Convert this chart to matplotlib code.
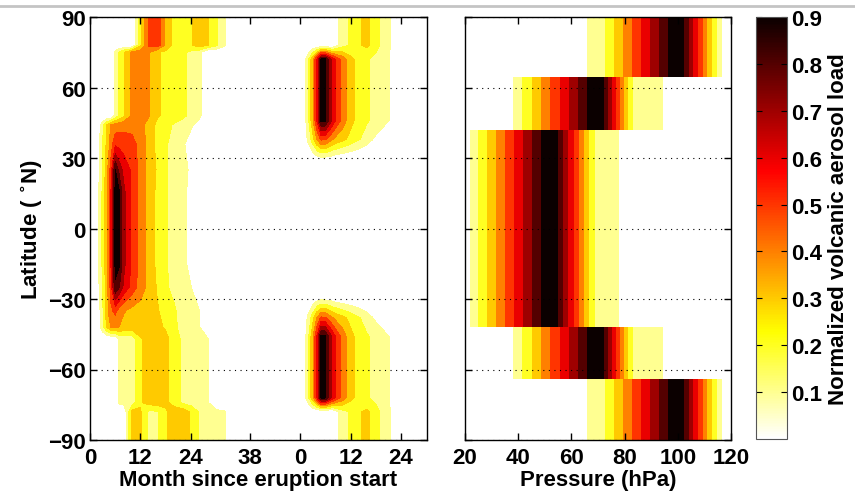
import numpy as np
import matplotlib
matplotlib.use("Agg")
import matplotlib.pyplot as plt
from matplotlib import cm
from matplotlib.colors import Normalize

plt.rcParams['font.family'] = ['Liberation Sans', 'DejaVu Sans']
plt.rcParams['font.weight'] = 'bold'
plt.rcParams['font.size'] = 16
plt.rcParams['mathtext.default'] = 'bf'

# ---- left panel, first eruption (months since start) ----
months1 = [0, 2, 3, 4, 5, 6, 7, 8, 10, 12, 14, 16, 18, 20, 22, 24, 26, 28, 30, 32, 34, 36]
lat1 = [-90, -78, -74, -47, -42, -35, -25, -15, 15, 25, 36, 44, 48, 75, 78, 90]
load1 = [
    [0, 0, 0, 0, 0, 0, 0, 0, 0.33, 0.31, 0.18, 0.19, 0.28, 0.36, 0.36, 0.29, 0.19, 0.15, 0.13, 0.11, 0, 0],
    [0, 0, 0, 0, 0, 0, 0, 0, 0.33, 0.31, 0.18, 0.19, 0.28, 0.36, 0.36, 0.29, 0.19, 0.15, 0.13, 0.11, 0, 0],
    [0, 0, 0, 0, 0, 0, 0.13, 0.14, 0.15, 0.29, 0.34, 0.35, 0.33, 0.25, 0.18, 0.15, 0.13, 0.11, 0, 0, 0, 0],
    [0, 0, 0, 0, 0, 0, 0.13, 0.14, 0.15, 0.29, 0.34, 0.35, 0.33, 0.25, 0.18, 0.15, 0.13, 0.11, 0, 0, 0, 0],
    [0, 0.04, 0.17, 0.31, 0.41, 0.42, 0.395, 0.37, 0.35, 0.35, 0.34, 0.32, 0.29, 0.22, 0.17, 0.13, 0.11, 0, 0, 0, 0, 0],
    [0, 0.05, 0.18, 0.36, 0.48, 0.53, 0.45, 0.41, 0.37, 0.36, 0.34, 0.31, 0.26, 0.21, 0.17, 0.13, 0.105, 0, 0, 0, 0, 0],
    [0, 0.08, 0.21, 0.35, 0.55, 0.89, 0.8, 0.68, 0.56, 0.45, 0.37, 0.29, 0.21, 0.18, 0.14, 0.105, 0, 0, 0, 0, 0, 0],
    [0, 0.09, 0.22, 0.38, 0.61, 0.92, 0.91, 0.73, 0.58, 0.46, 0.35, 0.28, 0.21, 0.17, 0.13, 0.07, 0, 0, 0, 0, 0, 0],
    [0, 0.09, 0.22, 0.38, 0.61, 0.92, 0.91, 0.73, 0.58, 0.46, 0.35, 0.28, 0.21, 0.17, 0.13, 0.07, 0, 0, 0, 0, 0, 0],
    [0, 0.07, 0.21, 0.36, 0.55, 0.905, 0.76, 0.67, 0.58, 0.46, 0.36, 0.29, 0.21, 0.17, 0.14, 0.08, 0, 0, 0, 0, 0, 0],
    [0, 0.08, 0.21, 0.32, 0.45, 0.58, 0.56, 0.55, 0.53, 0.47, 0.36, 0.27, 0.21, 0.17, 0.12, 0.05, 0, 0, 0, 0, 0, 0],
    [0, 0.03, 0.16, 0.31, 0.41, 0.44, 0.46, 0.47, 0.47, 0.44, 0.35, 0.28, 0.23, 0.19, 0.16, 0.12, 0.05, 0, 0, 0, 0, 0],
    [0, 0, 0, 0, 0, 0.13, 0.21, 0.28, 0.42, 0.45, 0.41, 0.31, 0.28, 0.25, 0.22, 0.18, 0.13, 0, 0, 0, 0, 0],
    [0, 0, 0, 0, 0, 0.13, 0.21, 0.28, 0.42, 0.45, 0.41, 0.31, 0.28, 0.25, 0.22, 0.18, 0.13, 0, 0, 0, 0, 0],
    [0, 0, 0, 0, 0, 0, 0, 0, 0, 0.28, 0.52, 0.56, 0.38, 0.27, 0.25, 0.29, 0.35, 0.31, 0.22, 0.12, 0, 0],
    [0, 0, 0, 0, 0, 0, 0, 0, 0, 0.28, 0.52, 0.56, 0.38, 0.27, 0.25, 0.29, 0.35, 0.31, 0.22, 0.12, 0, 0],
]

# ---- left panel, second eruption (starts at month 50 on the axis) ----
start2 = 50
months2 = [0, 1, 2, 3, 4, 5, 6, 7, 8, 10, 12, 14, 16, 18, 20, 22, 24, 26]
lat2 = [-90, -78, -72, -46, -38, -30, 0, 30, 38, 46, 72, 78, 90]
polar2 = [0, 0, 0, 0, 0, 0, 0, 0, 0.02, 0.16, 0.21, 0.29, 0.32, 0.24, 0.16, 0.08, 0, 0]
core2 = [0, 0.05, 0.19, 0.38, 0.61, 0.93, 0.92, 0.76, 0.64, 0.47, 0.33, 0.26, 0.21, 0.17, 0.13, 0.08, 0, 0]
edge2 = [0, 0.04, 0.13, 0.26, 0.41, 0.52, 0.51, 0.45, 0.39, 0.33, 0.27, 0.21, 0.14, 0.08, 0.03, 0, 0, 0]
rim2 = [0, 0, 0.01, 0.03, 0.06, 0.08, 0.08, 0.07, 0.05, 0.03, 0.01, 0, 0, 0, 0, 0, 0, 0]
none2 = [0] * 18
load2 = [polar2, polar2, core2, core2, edge2, rim2, none2, rim2, edge2, core2, core2, polar2, polar2]

# ---- right panel: load profiles against pressure for latitude bands ----
press_polar = [65.5, 66, 73, 97, 102, 114.5, 116.5, 117]
load_polar = [0, 0.12, 0.205, 0.92, 0.92, 0.205, 0.12, 0]
press_mid = [37.5, 38, 41.8, 66.7, 72, 82.7, 94.5, 95]
load_mid = [0, 0.12, 0.205, 0.92, 0.92, 0.205, 0.11, 0]
press_trop = [21.5, 22, 25, 49.3, 54.6, 68.5, 78, 78.5]
load_trop = [0, 0.12, 0.205, 0.92, 0.92, 0.205, 0.11, 0]
band_lat = [(-90, -64), (-64, -41.8), (-41.8, 42), (42, 64.5), (64.5, 90)]
band_name = ['polar', 'mid', 'trop', 'mid', 'polar']

month_ticks = [0, 12, 24, 38, 50, 62, 74]
month_labels = ['0', '12', '24', '38', '0', '12', '24']
lat_ticks = [-90, -60, -30, 0, 30, 60, 90]
cbar_ticks = [0.1, 0.2, 0.3, 0.4, 0.5, 0.6, 0.7, 0.8, 0.9]
levels = [0.1, 0.2, 0.3, 0.4, 0.5, 0.6, 0.7, 0.8, 0.9, 1.0]

cmap = plt.get_cmap('hot_r')
norm = Normalize(0, 0.9)
band_colors = [cmap(norm(l)) for l in levels[:-1]]

fig = plt.figure(figsize=(8.55, 5.02), dpi=100)
ax1 = fig.add_axes([90 / 855, 61 / 502, 337 / 855, 423 / 502])
ax2 = fig.add_axes([465 / 855, 61 / 502, 266 / 855, 423 / 502])
cax = fig.add_axes([756 / 855, 62 / 502, 31 / 855, 422 / 502])

ax1.contourf(months1, lat1, np.array(load1), levels=levels, colors=band_colors)
ax1.contourf(np.array(months2) + start2, lat2, np.array(load2), levels=levels, colors=band_colors)

profiles = {'polar': (press_polar, load_polar), 'mid': (press_mid, load_mid),
            'trop': (press_trop, load_trop)}
for (lo, hi), name in zip(band_lat, band_name):
    p, v = profiles[name]
    ax2.contourf(p, [lo, hi], np.array([v, v]), levels=levels, colors=band_colors)

for ax in (ax1, ax2):
    ax.set_ylim(-90, 90)
    ax.set_yticks(lat_ticks)
    ax.yaxis.grid(True, linestyle=(0, (1, 4)), color='k', linewidth=0.8)
    ax.set_axisbelow(False)
    ax.tick_params(direction='in', top=True, right=True, length=5, width=1, labelsize=16)
    ax.tick_params(axis='x', pad=5)
    ax.tick_params(axis='y', pad=3)
    for s in ax.spines.values():
        s.set_linewidth(1.0)

ax1.set_xlim(0, 80.2)
ax1.set_xticks(month_ticks)
ax1.set_xticklabels(month_labels)
ax1.set_xlabel('Month since eruption start', fontsize=16, fontweight='bold', labelpad=1)
ax1.set_ylabel(r'Latitude ( $^{\circ}$N)', fontsize=16, fontweight='bold', labelpad=2)

ax2.set_xlim(20, 120)
ax2.set_xticks([20, 40, 60, 80, 100, 120])
ax2.set_yticklabels([])
ax2.set_xlabel('Pressure (hPa)', fontsize=16, fontweight='bold', labelpad=1)

cb = fig.colorbar(cm.ScalarMappable(norm=norm, cmap=cmap), cax=cax, ticks=cbar_ticks)
cb.ax.set_yticklabels(['%.1f' % t for t in cbar_ticks])
cb.ax.tick_params(direction='in', left=True, right=True, length=4, labelsize=16, pad=3)
cb.outline.set_edgecolor('#555555')
cb.set_label('Normalized volcanic aerosol load', fontsize=16, fontweight='bold', labelpad=4)

fig.add_artist(plt.Line2D([0, 1], [1 - 7 / 502, 1 - 7 / 502], transform=fig.transFigure,
                          color='#c4c4c4', linewidth=2))

fig.savefig('out.png', dpi=100)
